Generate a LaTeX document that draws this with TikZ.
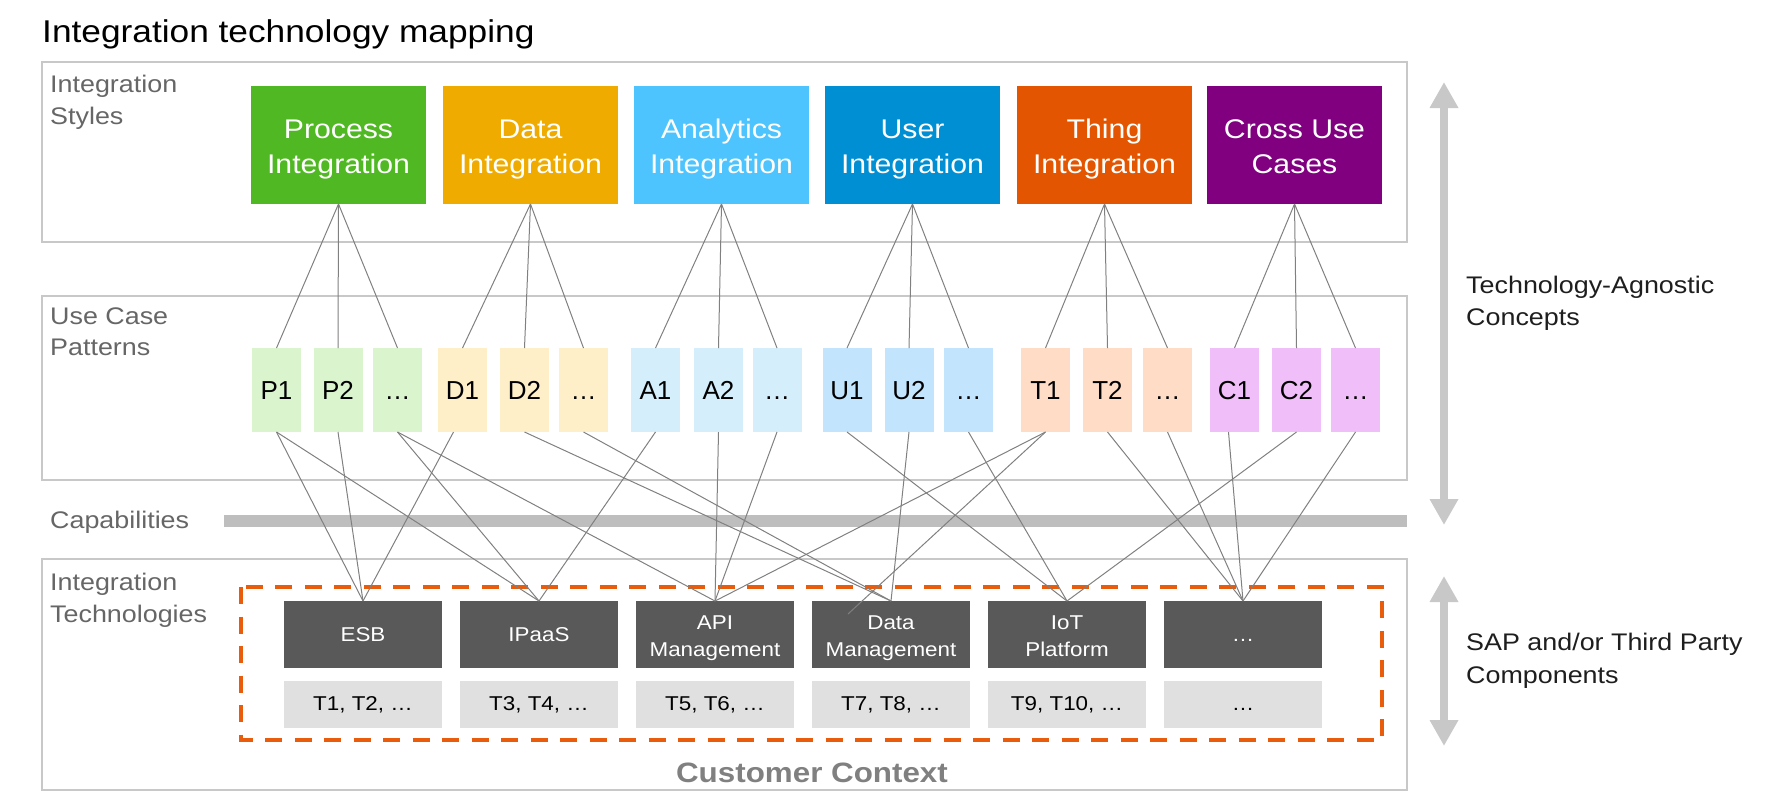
\documentclass[tikz,border=0pt]{standalone}
\usepackage{fontspec}
\setmainfont{Liberation Sans}[FakeStretch=1.12]
\newfontfamily\pfont{Liberation Sans}[FakeStretch=1.0]
\usetikzlibrary{arrows.meta}
\newcommand\topst[1]{\rule{0pt}{#1}}
\newcommand\botst[1]{\rule[-#1]{0pt}{#1}}
\definecolor{procc}{RGB}{80,184,34}
\definecolor{datac}{RGB}{240,171,0}
\definecolor{anac}{RGB}{77,196,253}
\definecolor{userc}{RGB}{0,143,211}
\definecolor{thingc}{RGB}{227,85,0}
\definecolor{crossc}{RGB}{128,0,128}
\definecolor{pc}{RGB}{218,245,205}
\definecolor{dc}{RGB}{254,239,201}
\definecolor{ac}{RGB}{212,238,252}
\definecolor{uc}{RGB}{194,228,252}
\definecolor{tc}{RGB}{254,220,198}
\definecolor{cc}{RGB}{240,190,248}
\definecolor{darkc}{RGB}{89,89,89}
\definecolor{lightc}{RGB}{224,224,224}
\definecolor{framec}{RGB}{200,200,200}
\definecolor{barc}{RGB}{190,190,190}
\definecolor{arrc}{RGB}{200,200,200}
\definecolor{orangec}{RGB}{232,92,12}
\definecolor{labelc}{RGB}{102,102,102}
\definecolor{custc}{RGB}{128,128,128}
\definecolor{linec}{RGB}{128,128,128}
\definecolor{textc}{RGB}{30,30,30}
\begin{document}
\begin{tikzpicture}[x=1pt,y=-1pt,
  frame/.style={draw=framec, line width=2pt},
  stylebox/.style={inner sep=0pt, outer sep=0pt, minimum width=175pt, minimum height=118pt, text=white, align=center, font=\fontsize{27}{35}\selectfont},
  patbox/.style={inner sep=0pt, outer sep=0pt, minimum width=49pt, minimum height=84pt, text=black, text height=18.6pt, text depth=0pt, font=\pfont\fontsize{26}{30}\selectfont},
  techbox/.style={fill=darkc, text=white, inner sep=0pt, outer sep=0pt, minimum width=158pt, minimum height=67pt, align=center, font=\fontsize{20}{27}\selectfont},
  listbox/.style={fill=lightc, text=black, inner sep=0pt, outer sep=0pt, minimum width=158pt, minimum height=47pt, text height=14.3pt, text depth=2pt, font=\fontsize{20}{24}\selectfont},
  seclabel/.style={anchor=north west, inner sep=0pt, align=left, text=labelc, font=\fontsize{24}{31.5}\selectfont},
  rlabel/.style={anchor=north west, inner sep=0pt, align=left, text=textc, font=\fontsize{24}{31.5}\selectfont},
  link/.style={draw=linec, line width=1pt},
  bigarrow/.style={draw=arrc, line width=8pt, {Triangle[width=27pt,length=26pt]}-{Triangle[width=27pt,length=26pt]}},
  dashbox/.style={draw=orangec, line width=4.5pt, dash pattern=on 17pt off 12.5pt}
]
\useasboundingbox (0,0) rectangle (1767,801);

% title
\node[anchor=base west, inner sep=0pt, text=black, font=\fontsize{31.5}{37}\selectfont] (title) at (42,42) {Integration technology mapping};

% frames
\draw[frame] (42,62) rectangle (1407,242);
\draw[frame] (42,296) rectangle (1407,480);
\draw[frame] (42,559) rectangle (1407,790);

% section labels
\node[seclabel] (lstyles) at (50,75) {Integration\\Styles};
\node[seclabel] (lpatterns) at (50,307.5) {Use Case\\Patterns};
\node[anchor=base west, inner sep=0pt, text=labelc, font=\fontsize{24}{31.5}\selectfont] (lcap) at (50,528) {Capabilities};
\node[seclabel] (ltech) at (50,573) {Integration\\Technologies};

% capabilities bar
\draw[draw=barc, line width=12pt] (224,521) -- (1407,521);

% integration styles
\node[stylebox, fill=procc] (proc) at (338.5,145) {\topst{27pt}Process\\Integration\botst{6pt}};
\node[stylebox, fill=datac] (data) at (530.5,145) {\topst{27pt}Data\\Integration\botst{6pt}};
\node[stylebox, fill=anac] (ana) at (721.5,145) {\topst{27pt}Analytics\\Integration\botst{6pt}};
\node[stylebox, fill=userc] (user) at (912.5,145) {\topst{27pt}User\\Integration\botst{6pt}};
\node[stylebox, fill=thingc] (thing) at (1104.5,145) {\topst{27pt}Thing\\Integration\botst{6pt}};
\node[stylebox, fill=crossc] (cross) at (1294.5,145) {\topst{27pt}Cross Use\\Cases\botst{6pt}};

% use case patterns
\foreach \n/\x/\c/\t in {P1/276.5/pc/P1, P2/338/pc/P2, P3/397.5/pc/…,
  D1/462.5/dc/D1, D2/524.5/dc/D2, D3/583.5/dc/…,
  A1/655.5/ac/A1, A2/718.5/ac/A2, A3/777/ac/…,
  U1/847/uc/U1, U2/909/uc/U2, U3/968.5/uc/…,
  T1/1045.5/tc/T1, T2/1107.5/tc/T2, T3/1167.5/tc/…,
  C1/1234.5/cc/C1, C2/1296.5/cc/C2, C3/1355.5/cc/…}
  \node[patbox, fill=\c] (\n) at (\x,390) {\t};

% technologies
\draw[dashbox] (241,587) rectangle (1382,740);
\node[techbox] (esb) at (363,634.5) {ESB};
\node[techbox] (ipaas) at (539,634.5) {IPaaS};
\node[techbox] (api) at (715,634.5) {\topst{20.5pt}API\\Management\botst{4.5pt}};
\node[techbox] (dm) at (891,634.5) {\topst{20.5pt}Data\\Management\botst{4.5pt}};
\node[techbox] (iot) at (1067,634.5) {\topst{20.5pt}IoT\\Platform\botst{4.5pt}};
\node[techbox, text height=14.3pt, text depth=0pt] (more) at (1243,634.5) {…};
\node[listbox] (l1) at (363,704.5) {T1, T2, …};
\node[listbox] (l2) at (539,704.5) {T3, T4, …};
\node[listbox] (l3) at (715,704.5) {T5, T6, …};
\node[listbox] (l4) at (891,704.5) {T7, T8, …};
\node[listbox] (l5) at (1067,704.5) {T9, T10, …};
\node[listbox] (l6) at (1243,704.5) {…};

\node[anchor=base, inner sep=0pt, text=custc, font=\bfseries\fontsize{28}{30}\selectfont] (ctx) at (812,782) {Customer Context};

% style -> pattern links
\foreach \s/\a/\b/\c in {proc/P1/P2/P3, data/D1/D2/D3, ana/A1/A2/A3, user/U1/U2/U3, thing/T1/T2/T3, cross/C1/C2/C3}{
  \draw[link] (\s.south) -- (\a.north);
  \draw[link] (\s.south) -- (\b.north);
  \draw[link] (\s.south) -- (\c.north);
}

% pattern -> technology links
\foreach \a/\b in {P1/esb, P1/ipaas, P2/esb, P3/ipaas, P3/api, D2/dm, D3/dm,
  A1/ipaas, A2/api, A3/api, U1/iot, U2/dm, U3/iot, T1/api, T2/more, T3/more, C2/iot, C3/more}
  \draw[link] (\a.south) -- (\b.north);
\draw[link] ([xshift=-9pt]D1.south) -- (esb.north);
\draw[link] ([xshift=-6pt]C1.south) -- (more.north);
\coordinate (tend) at (848,614);
\draw[link] (T1.south) -- (tend);

% right arrows and labels
\coordinate (a1t) at (1444,82);
\coordinate (a1b) at (1444,525);
\coordinate (a2t) at (1444,576);
\coordinate (a2b) at (1444,746);
\draw[bigarrow] (a1b) -- (a1t);
\draw[bigarrow] (a2b) -- (a2t);
\node[rlabel] (tac) at (1466,276) {Technology-Agnostic\\Concepts};
\node[rlabel, font=\fontsize{24}{33}\selectfont] (sap) at (1466,633) {SAP and/or Third Party\\Components};
\end{tikzpicture}
\end{document}
